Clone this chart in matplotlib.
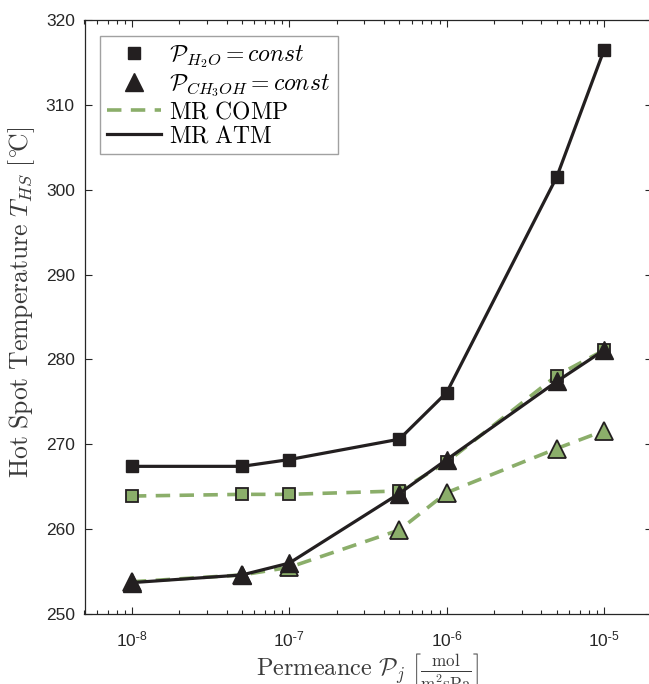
import matplotlib
matplotlib.use("Agg")
import matplotlib.pyplot as plt
from matplotlib.lines import Line2D
import numpy as np

plt.rcParams['font.family'] = ['Liberation Sans', 'DejaVu Sans']
plt.rcParams['mathtext.fontset'] = 'cm'

permeance = [1e-8, 5e-8, 1e-7, 5e-7, 1e-6, 5e-6, 1e-5]
atm_h2o = [267.4, 267.4, 268.2, 270.6, 276.1, 301.5, 316.5]
comp_h2o = [263.9, 264.1, 264.1, 264.5, 267.9, 278.1, 281.1]
atm_ch3oh = [253.7, 254.6, 256.0, 264.2, 268.2, 277.4, 281.1]
comp_ch3oh = [253.8, 254.6, 255.5, 259.9, 264.3, 269.5, 271.6]
xtick_vals = [1e-8, 1e-7, 1e-6, 1e-5]
xtick_labels = [r'$\mathdefault{10^{\text{-}8}}$', r'$\mathdefault{10^{\text{-}7}}$',
                r'$\mathdefault{10^{\text{-}6}}$', r'$\mathdefault{10^{\text{-}5}}$']

green = '#8BAE6A'
dark = '#231F20'
axc = '#262626'

fig = plt.figure(figsize=(6.49, 6.84), dpi=100)
ax = fig.add_axes([84.5/649, 70/684, 567/649, 594/684])

dash = (0, (4, 2.6))
ax.plot(permeance, comp_h2o, color=green, lw=2.6, linestyle=dash, zorder=2)
ax.plot(permeance, comp_ch3oh, color=green, lw=2.6, linestyle=dash, zorder=2)
ax.plot(permeance, comp_h2o, linestyle='none', marker='s', ms=9, mfc=green, mec=dark, mew=1.3, zorder=3)
ax.plot(permeance, comp_ch3oh, linestyle='none', marker='^', ms=13, mfc=green, mec=dark, mew=1.3, zorder=3)
ax.plot(permeance, atm_h2o, color=dark, lw=2.3, marker='s', ms=9, mfc=dark, mec=dark, zorder=4)
ax.plot(permeance, atm_ch3oh, color=dark, lw=2.3, marker='^', ms=13, mfc=dark, mec=dark, zorder=4)

ax.set_xscale('log')
ax.set_xlim(5e-9, 2e-5)
ax.set_ylim(250, 320)
ax.set_yticks(np.arange(250, 321, 10))
ax.set_xticks(xtick_vals)
ax.set_xticklabels(xtick_labels)
ax.tick_params(which='both', direction='in', top=True, right=True, colors=axc,
               labelsize=12.5, labelcolor=axc)
ax.tick_params(which='major', length=5, width=0.8)
ax.tick_params(axis='x', which='major', pad=11)
ax.tick_params(axis='y', which='major', pad=7)
ax.tick_params(which='minor', length=3, width=0.8)
for s in ax.spines.values():
    s.set_color(axc)
    s.set_linewidth(0.9)

ax.set_ylabel(r'$\mathrm{Hot\ Spot\ Temperature}\ T_{HS}\ [{}^{\circ}\!\mathrm{C}]$',
              fontsize=18.5, color='#3a3a3a')
ax.yaxis.set_label_coords(-0.083, 0.525)
ax.set_xlabel(r'$\mathrm{Permeance}\ \mathcal{P}_j\ \left[\frac{\mathrm{mol}}{\mathrm{m^2sPa}}\right]$',
              fontsize=17.5, color='#3a3a3a', labelpad=1)

handles = [
    Line2D([], [], linestyle='none', marker='s', ms=9, mfc=dark, mec=dark),
    Line2D([], [], linestyle='none', marker='^', ms=13, mfc=dark, mec=dark),
    Line2D([], [], color=green, lw=2.6, linestyle=dash),
    Line2D([], [], color=dark, lw=2.3),
]
labels = [r'$\mathcal{P}_{H_2O} = const$', r'$\mathcal{P}_{CH_3OH} = const$',
          r'$\mathrm{MR\ COMP}$', r'$\mathrm{MR\ ATM}$']
leg = ax.legend(handles, labels, loc='upper left', bbox_to_anchor=(0.027, 0.973),
                borderaxespad=0, fontsize=17, frameon=True, fancybox=False,
                edgecolor='#8a8a8a', handlelength=2.3, handletextpad=0.35,
                labelspacing=0.1, borderpad=0.3)
leg.get_frame().set_linewidth(1.0)

fig.savefig('out.png', dpi=100)
